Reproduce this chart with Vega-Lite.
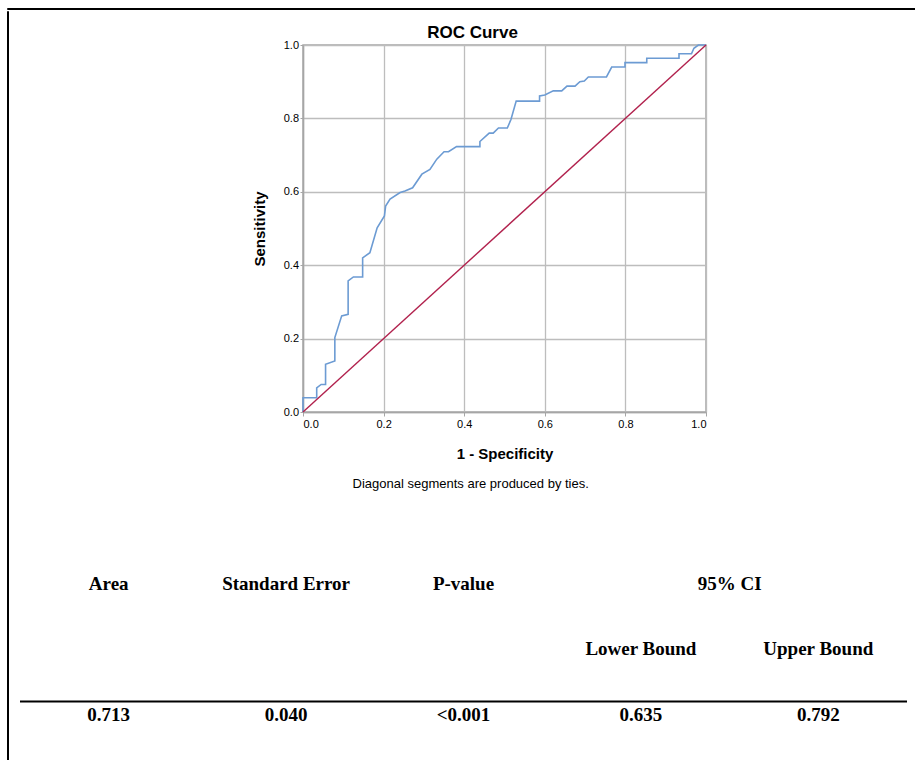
{
  "$schema": "https://vega.github.io/schema/vega-lite/v6.json",
  "padding": {"left": 6, "top": 7, "right": 0, "bottom": 0},
  "background": "white",
  "config": {"view": {"stroke": null}, "font": "Liberation Sans"},
  "datasets": {
    "table": [
      {"row": "h1", "col": "Area", "label": "Area"},
      {"row": "h1", "col": "Standard Error", "label": "Standard Error"},
      {"row": "h1", "col": "P-value", "label": "P-value"},
      {"row": "h1", "col": "Lower Bound", "label": "95% CI", "span": true},
      {"row": "h2", "col": "Lower Bound", "label": "Lower Bound"},
      {"row": "h2", "col": "Upper Bound", "label": "Upper Bound"},
      {"row": "v", "col": "Area", "label": "0.713"},
      {"row": "v", "col": "Standard Error", "label": "0.040"},
      {"row": "v", "col": "P-value", "label": "<0.001"},
      {"row": "v", "col": "Lower Bound", "label": "0.635"},
      {"row": "v", "col": "Upper Bound", "label": "0.792"}
    ],
    "roc": [
      {"i": 0, "fpr": 0, "tpr": 0},
      {"i": 1, "fpr": 0, "tpr": 0.039},
      {"i": 2, "fpr": 0.034, "tpr": 0.039},
      {"i": 3, "fpr": 0.034, "tpr": 0.066},
      {"i": 4, "fpr": 0.045, "tpr": 0.075},
      {"i": 5, "fpr": 0.056, "tpr": 0.075},
      {"i": 6, "fpr": 0.056, "tpr": 0.13},
      {"i": 7, "fpr": 0.079, "tpr": 0.139},
      {"i": 8, "fpr": 0.079, "tpr": 0.203},
      {"i": 9, "fpr": 0.096, "tpr": 0.262},
      {"i": 10, "fpr": 0.112, "tpr": 0.266},
      {"i": 11, "fpr": 0.112, "tpr": 0.357},
      {"i": 12, "fpr": 0.125, "tpr": 0.368},
      {"i": 13, "fpr": 0.148, "tpr": 0.368},
      {"i": 14, "fpr": 0.148, "tpr": 0.42},
      {"i": 15, "fpr": 0.166, "tpr": 0.434},
      {"i": 16, "fpr": 0.184, "tpr": 0.502},
      {"i": 17, "fpr": 0.202, "tpr": 0.534},
      {"i": 18, "fpr": 0.205, "tpr": 0.561},
      {"i": 19, "fpr": 0.216, "tpr": 0.58},
      {"i": 20, "fpr": 0.241, "tpr": 0.598},
      {"i": 21, "fpr": 0.253, "tpr": 0.602},
      {"i": 22, "fpr": 0.272, "tpr": 0.611},
      {"i": 23, "fpr": 0.295, "tpr": 0.648},
      {"i": 24, "fpr": 0.315, "tpr": 0.661},
      {"i": 25, "fpr": 0.332, "tpr": 0.689},
      {"i": 26, "fpr": 0.35, "tpr": 0.709},
      {"i": 27, "fpr": 0.361, "tpr": 0.709},
      {"i": 28, "fpr": 0.381, "tpr": 0.723},
      {"i": 29, "fpr": 0.439, "tpr": 0.723},
      {"i": 30, "fpr": 0.439, "tpr": 0.737},
      {"i": 31, "fpr": 0.462, "tpr": 0.76},
      {"i": 32, "fpr": 0.472, "tpr": 0.76},
      {"i": 33, "fpr": 0.485, "tpr": 0.774},
      {"i": 34, "fpr": 0.507, "tpr": 0.774},
      {"i": 35, "fpr": 0.516, "tpr": 0.797},
      {"i": 36, "fpr": 0.529, "tpr": 0.847},
      {"i": 37, "fpr": 0.587, "tpr": 0.847},
      {"i": 38, "fpr": 0.587, "tpr": 0.861},
      {"i": 39, "fpr": 0.6, "tpr": 0.864},
      {"i": 40, "fpr": 0.621, "tpr": 0.875},
      {"i": 41, "fpr": 0.642, "tpr": 0.875},
      {"i": 42, "fpr": 0.655, "tpr": 0.888},
      {"i": 43, "fpr": 0.675, "tpr": 0.888},
      {"i": 44, "fpr": 0.687, "tpr": 0.9},
      {"i": 45, "fpr": 0.698, "tpr": 0.902},
      {"i": 46, "fpr": 0.708, "tpr": 0.913},
      {"i": 47, "fpr": 0.753, "tpr": 0.913},
      {"i": 48, "fpr": 0.766, "tpr": 0.94},
      {"i": 49, "fpr": 0.799, "tpr": 0.94},
      {"i": 50, "fpr": 0.799, "tpr": 0.952},
      {"i": 51, "fpr": 0.853, "tpr": 0.952},
      {"i": 52, "fpr": 0.853, "tpr": 0.964},
      {"i": 53, "fpr": 0.933, "tpr": 0.964},
      {"i": 54, "fpr": 0.933, "tpr": 0.976},
      {"i": 55, "fpr": 0.964, "tpr": 0.976},
      {"i": 56, "fpr": 0.97, "tpr": 0.991},
      {"i": 57, "fpr": 0.981, "tpr": 1.0},
      {"i": 58, "fpr": 1.0, "tpr": 1.0}
    ]
  },
  "spacing": 0,
  "vconcat": [
    {"width": 908, "height": 1, "view": {"stroke": "black", "strokeWidth": 1}, "data": {"values": []}, "mark": "point"},
    {
      "spacing": 10,
      "hconcat": [
        {"width": 1, "height": 752, "view": {"stroke": "black", "strokeWidth": 1}, "data": {"values": []}, "mark": "point"},
        {
          "spacing": 0,
          "vconcat": [
            {"width": 1, "height": 11, "data": {"values": []}, "mark": "point"},
            {
              "spacing": 0,
              "hconcat": [
                {"width": 231, "height": 1, "data": {"values": []}, "mark": "point"},
                {
                  "width": 403,
                  "height": 367,
                  "view": {"stroke": "#a6a6a6", "strokeWidth": 1.5},
                  "title": {"text": "Diagonal segments are produced by ties.", "orient": "bottom", "anchor": "middle", "frame": "bounds", "fontSize": 13, "fontWeight": "normal", "font": "Liberation Sans", "color": "black", "offset": 17, "dx": -10},
                  "layer": [
                    {
                      "data": {"name": "roc"},
                      "mark": {"type": "line", "color": "#6c9bd3", "strokeWidth": 1.6},
                      "encoding": {
                        "x": {
                          "field": "fpr", "type": "quantitative", "scale": {"domain": [0, 1], "nice": false},
                          "axis": {"orient": "bottom", "title": "1 - Specificity", "values": [0, 0.2, 0.4, 0.6, 0.8, 1], "format": ".1f", "labelFontSize": 11, "labelColor": "black", "labelFont": "Liberation Sans", "titleFont": "Liberation Sans", "titleFontSize": 15, "titleFontWeight": "bold", "titleColor": "black", "titlePadding": 17, "tickSize": 4, "tickColor": "#a6a6a6", "domainColor": "#a6a6a6", "domainWidth": 1.5, "gridColor": "#bdbdbd", "gridWidth": 1.3, "labelPadding": 2}
                        },
                        "y": {
                          "field": "tpr", "type": "quantitative", "scale": {"domain": [0, 1], "nice": false},
                          "axis": {"orient": "left", "title": "Sensitivity", "values": [0, 0.2, 0.4, 0.6, 0.8, 1], "format": ".1f", "labelFontSize": 11, "labelColor": "black", "labelFont": "Liberation Sans", "titleFont": "Liberation Sans", "titleFontSize": 15, "titleFontWeight": "bold", "titleColor": "black", "titlePadding": 16, "tickSize": 3, "tickColor": "#a6a6a6", "domainColor": "#a6a6a6", "domainWidth": 1.5, "gridColor": "#bdbdbd", "gridWidth": 1.3, "labelPadding": 1.5}
                        },
                        "order": {"field": "i", "type": "quantitative"}
                      }
                    },
                    {
                      "data": {"values": [{"fpr": 0, "tpr": 0}, {"fpr": 1, "tpr": 1}]},
                      "mark": {"type": "line", "color": "#b1214d", "strokeWidth": 1.4},
                      "encoding": {
                        "x": {
                          "field": "fpr", "type": "quantitative",
                          "axis": {"orient": "top", "title": "ROC Curve", "labels": false, "ticks": false, "domain": false, "grid": false, "titleFont": "Liberation Sans", "titleFontSize": 17, "titleFontWeight": "bold", "titleColor": "black", "titlePadding": 4, "titleX": 169}
                        },
                        "y": {"field": "tpr", "type": "quantitative"}
                      }
                    }
                  ],
                  "resolve": {"axis": {"x": "independent"}}
                }
              ]
            },
            {
              "width": 887,
              "height": 269,
              "data": {"name": "table"},
              "layer": [
                {
                  "transform": [{"filter": "!datum.span"}],
                  "mark": {"type": "text", "font": "Liberation Serif", "fontWeight": "bold", "fontSize": 19, "color": "black"},
                  "encoding": {
                    "x": {
                      "field": "col", "type": "nominal",
                      "scale": {"type": "band", "domain": ["Area", "Standard Error", "P-value", "Lower Bound", "Upper Bound"], "paddingInner": 0, "paddingOuter": 0},
                      "axis": null
                    },
                    "y": {
                      "field": "row", "type": "nominal",
                      "scale": {"type": "band", "domain": ["h1", "h2", "v"], "paddingInner": 0, "paddingOuter": 0.5534, "align": 0.817},
                      "axis": null
                    },
                    "text": {"field": "label"}
                  }
                },
                {
                  "transform": [{"filter": "datum.span"}],
                  "mark": {"type": "text", "font": "Liberation Serif", "fontWeight": "bold", "fontSize": 19, "color": "black"},
                  "encoding": {
                    "x": {"field": "col", "type": "nominal", "bandPosition": 1},
                    "y": {"field": "row", "type": "nominal"},
                    "text": {"field": "label"}
                  }
                },
                {
                  "data": {"values": [{}]},
                  "mark": {"type": "rule", "color": "black", "strokeWidth": 2},
                  "encoding": {
                    "y": {"datum": "v", "type": "nominal", "bandPosition": 0.295}
                  }
                }
              ]
            }
          ]
        }
      ]
    }
  ]
}
